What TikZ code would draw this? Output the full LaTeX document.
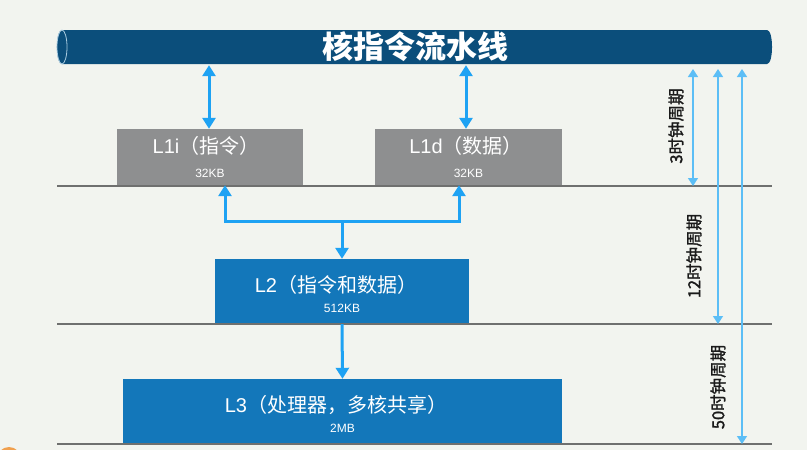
\documentclass[tikz,border=0pt]{standalone}
\usepackage{fontspec}
\setmainfont{Noto Sans CJK SC}
\newfontfamily\latin{Liberation Sans}
\newfontfamily\labfont{Noto Sans CJK SC}[FakeBold=1.6]
\usetikzlibrary{arrows.meta,calc}
\definecolor{bgc}{HTML}{F2F4EF}
\definecolor{pipec}{HTML}{0B4E7B}
\definecolor{pipeedge}{HTML}{A9CBE0}
\definecolor{grayc}{HTML}{8E8F90}
\definecolor{bluec}{HTML}{1377BA}
\definecolor{arrc}{HTML}{1EA2F3}
\definecolor{sarrc}{HTML}{5CBEF6}
\definecolor{linec}{HTML}{6F706F}
\definecolor{orangec}{HTML}{F0A04E}
\definecolor{labc}{HTML}{1A1A1A}
\tikzset{
  cachebox/.style={rectangle, inner sep=0pt, draw=none},
  graybox/.style={cachebox, fill=grayc},
  bluebox/.style={cachebox, fill=bluec},
  boxtitle/.style={text=white, inner sep=0pt, font=\fontsize{20}{20}\selectfont},
  boxsize/.style={text=white, inner sep=0pt, font=\latin\fontsize{12}{12}\selectfont},
  biarr/.style={draw=arrc, line width=3pt, {Triangle[length=11pt,width=13pt]}-{Triangle[length=11pt,width=13pt]}},
  arr/.style={draw=arrc, line width=3pt, -{Triangle[length=11pt,width=13pt]}},
  sarr/.style={draw=sarrc, line width=1.4pt, {Triangle[length=8pt,width=10pt]}-{Triangle[length=8pt,width=10pt]}},
  level/.style={draw=linec, line width=1.6pt},
  cyclabel/.style={rotate=90, inner sep=0pt, font=\labfont\fontsize{16.5}{16.5}\selectfont, text=labc}
}
\begin{document}
\begin{tikzpicture}[x=1pt,y=-1pt]
\useasboundingbox[fill=bgc] (0,0) rectangle (807,450);
% orange marker at bottom-left
\fill[orangec] (9,459) circle[radius=12pt];
% pipeline cylinder
\fill[pipec] (62,30) -- (767,30) .. controls (773.7,30) and (773.7,64) .. (767,64)
  -- (62,64) .. controls (55.3,64) and (55.3,30) .. (62,30) -- cycle;
\draw[pipeedge, line width=0.8pt] (62,47) ellipse[x radius=5pt, y radius=17pt];
\node[inner sep=0pt, minimum width=710pt, minimum height=34pt] (pipe) at (414.5,47) {};
\node[text=white, inner sep=0pt, font=\bfseries\fontsize{31}{31}\selectfont] (title) at (415,47) {核指令流水线};
% cache boxes
\node[graybox, minimum width=186pt, minimum height=56pt] (L1i) at (210,157) {};
\node[graybox, minimum width=187pt, minimum height=56pt] (L1d) at (468.5,157) {};
\node[bluebox, minimum width=254pt, minimum height=65pt] (L2) at (342,291.5) {};
\node[bluebox, minimum width=439pt, minimum height=65pt] (L3) at (342.5,411.5) {};
\node[boxtitle] (L1it) at (206,146) {{\latin L1i}（指令）};
\node[boxsize] (L1is) at (210,173) {32KB};
\node[boxtitle] (L1dt) at (466,146) {{\latin L1d}（数据）};
\node[boxsize] (L1ds) at (468.5,173) {32KB};
\node[boxtitle] (L2t) at (336,285) {{\latin L2}（指令和数据）};
\node[boxsize] (L2s) at (342,308) {512KB};
\node[boxtitle] (L3t) at (336,405) {{\latin L3}（处理器，多核共享）};
\node[boxsize] (L3s) at (342.5,428) {2MB};
% level lines
\coordinate (lA0) at (57,186); \coordinate (lA1) at (772,186);
\coordinate (lB0) at (57,324); \coordinate (lB1) at (772,324);
\coordinate (lC0) at (57,444); \coordinate (lC1) at (772,444);
\draw[level] (lA0) -- (lA1);
\draw[level] (lB0) -- (lB1);
\draw[level] (lC0) -- (lC1);
% pipe <-> L1
\draw[biarr, shorten <=1pt] ([xshift=-1pt]L1i.north |- pipe.south) -- ([xshift=-1pt]L1i.north);
\draw[biarr, shorten <=1pt] ([xshift=-2.5pt]L1d.north |- pipe.south) -- ([xshift=-2.5pt]L1d.north);
% L2 -> L1
\coordinate (jn) at (342,221);
\draw[arr] (jn) -| ([xshift=15pt]L1i.south);
\draw[arr] (jn) -| ([xshift=-9.5pt]L1d.south);
\draw[arr] (jn) -- (L2.north);
% L2 -> L3
\draw[arr] (L2.south) -- (L3.north);
% latency arrows
\coordinate (r3) at (693,69);
\coordinate (r12) at (718,69);
\coordinate (r50) at (742,69);
\draw[sarr] (r3) -- (r3 |- lA1);
\draw[sarr] (r12) -- (r12 |- lB1);
\draw[sarr] (r50) -- (r50 |- lC1);
\node[cyclabel] (c3) at (676,126) {3时钟周期};
\node[cyclabel] (c12) at (694,256) {12时钟周期};
\node[cyclabel] (c50) at (718,387) {50时钟周期};
\end{tikzpicture}
\end{document}
